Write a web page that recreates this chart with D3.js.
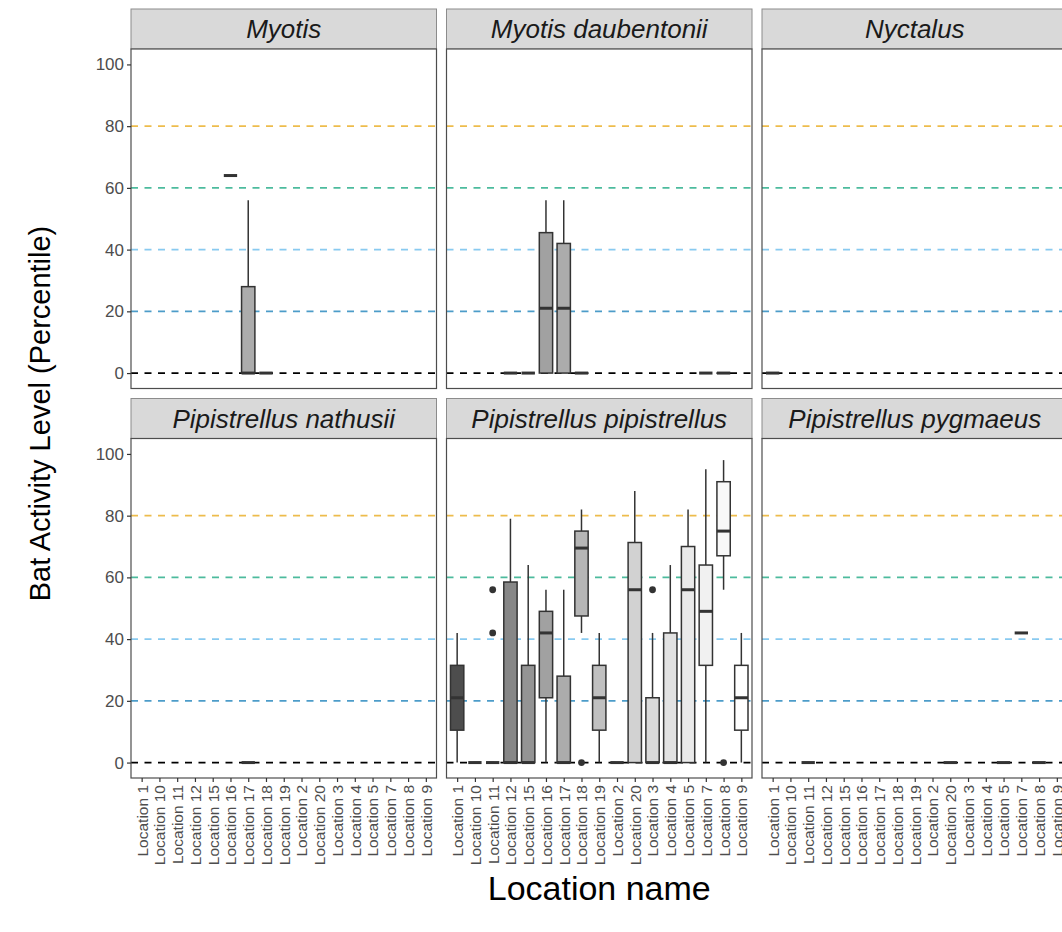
<!DOCTYPE html>
<html>
<head>
<meta charset="utf-8">
<script src="https://cdn.jsdelivr.net/npm/d3@7"></script>
<style>
  body { margin: 0; background: #fff; }
  svg { display: block; font-family: "Liberation Sans", Arial, sans-serif; }
</style>
</head>
<body>
<svg id="chart" width="1062" height="932"></svg>
<script>
// datos
var locations = ["Location 1", "Location 10", "Location 11", "Location 12", "Location 15",
  "Location 16", "Location 17", "Location 18", "Location 19", "Location 2", "Location 20",
  "Location 3", "Location 4", "Location 5", "Location 7", "Location 8", "Location 9"];

var species = ["Myotis", "Myotis daubentonii", "Nyctalus",
  "Pipistrellus nathusii", "Pipistrellus pipistrellus", "Pipistrellus pygmaeus"];

var yTicks = [0, 20, 40, 60, 80, 100];
var thresholds = [0, 20, 40, 60, 80];

// [location, lower, q1, median, q3, upper]
var myotisBoxes = [
  ["Location 16", 64, 64, 64, 64, 64],
  ["Location 17", 0, 0, 0, 28, 56],
  ["Location 18", 0, 0, 0, 0, 0]
];
var daubentoniiBoxes = [
  ["Location 12", 0, 0, 0, 0, 0],
  ["Location 15", 0, 0, 0, 0, 0],
  ["Location 16", 0, 0, 21, 45.5, 56],
  ["Location 17", 0, 0, 21, 42, 56],
  ["Location 18", 0, 0, 0, 0, 0],
  ["Location 7", 0, 0, 0, 0, 0],
  ["Location 8", 0, 0, 0, 0, 0]
];
var nyctalusBoxes = [
  ["Location 1", 0, 0, 0, 0, 0]
];
var nathusiiBoxes = [
  ["Location 17", 0, 0, 0, 0, 0]
];
var pipistrellusBoxes = [
  ["Location 1", 0, 10.5, 21, 31.5, 42],
  ["Location 10", 0, 0, 0, 0, 0],
  ["Location 11", 0, 0, 0, 0, 0],
  ["Location 12", 0, 0, 0, 58.5, 79],
  ["Location 15", 0, 0, 0, 31.5, 64],
  ["Location 16", 0, 21, 42, 49, 56],
  ["Location 17", 0, 0, 0, 28, 56],
  ["Location 18", 42, 47.5, 69.5, 75, 82],
  ["Location 19", 0, 10.5, 21, 31.5, 42],
  ["Location 2", 0, 0, 0, 0, 0],
  ["Location 20", 0, 0, 56, 71.3, 88],
  ["Location 3", 0, 0, 0, 21, 42],
  ["Location 4", 0, 0, 0, 42, 64],
  ["Location 5", 0, 0, 56, 70, 82],
  ["Location 7", 0, 31.5, 49, 64, 95],
  ["Location 8", 56, 67, 75, 91, 98],
  ["Location 9", 0, 10.5, 21, 31.5, 42]
];
var pygmaeusBoxes = [
  ["Location 11", 0, 0, 0, 0, 0],
  ["Location 20", 0, 0, 0, 0, 0],
  ["Location 5", 0, 0, 0, 0, 0],
  ["Location 7", 42, 42, 42, 42, 42],
  ["Location 8", 0, 0, 0, 0, 0]
];
var pipistrellusOutliers = [
  ["Location 11", 42], ["Location 11", 56],
  ["Location 18", 0], ["Location 3", 56], ["Location 8", 0]
];

var boxesBySpecies = [myotisBoxes, daubentoniiBoxes, nyctalusBoxes,
  nathusiiBoxes, pipistrellusBoxes, pygmaeusBoxes];
var outliersBySpecies = [[], [], [], [], pipistrellusOutliers, []];

// colores de las lineas de referencia
var thresholdColours = ["#000000", "#0072B2", "#56B4E9", "#009E73", "#E69F00"];

// grandaria de los paneles
var marginLeft = 131, marginTop = 9, panelW = 305.5, panelH = 339.5, stripH = 40,
    gapX = 10, gapY = 10;

var svg = d3.select("#chart");

var x = d3.scalePoint().domain(locations).range([0, panelW]).padding(0.6);
var y = d3.scaleLinear().domain([-5, 105]).range([panelH, 0]);
var boxW = x.step() * 0.75;

// escala de grises como scale_fill_grey
var fill = d3.scaleOrdinal().domain(locations).range(locations.map(function (d, i) {
  var g = Math.pow(Math.pow(0.3, 2.2) + i / (locations.length - 1) * (1 - Math.pow(0.3, 2.2)), 1 / 2.2);
  return d3.rgb(g * 255, g * 255, g * 255).formatHex();
}));

species.forEach(function (sp, k) {
  var col = k % 3, row = Math.floor(k / 3);
  var px = marginLeft + col * (panelW + gapX);
  var py = marginTop + row * (stripH + panelH + gapY);

  var g = svg.append("g").attr("transform", "translate(" + px + "," + py + ")");

  // tira
  g.append("rect")
    .attr("width", panelW).attr("height", stripH)
    .attr("fill", "#d9d9d9").attr("stroke", "#8c8c8c").attr("stroke-width", 1);
  g.append("text")
    .attr("x", panelW / 2).attr("y", stripH / 2)
    .attr("dy", "0.36em")
    .attr("text-anchor", "middle")
    .style("font-size", "26px").style("font-style", "italic")
    .attr("fill", "#1a1a1a")
    .text(sp);

  var p = g.append("g").attr("transform", "translate(0," + stripH + ")");

  p.append("rect").attr("width", panelW).attr("height", panelH).attr("fill", "#fff");

  // lineas de referencia
  p.selectAll(".hline")
    .data(thresholds)
    .enter().append("line")
    .attr("x1", 0).attr("x2", panelW)
    .attr("y1", function (d) { return y(d); })
    .attr("y2", function (d) { return y(d); })
    .attr("stroke", function (d, i) { return thresholdColours[i]; })
    .attr("stroke-opacity", function (d, i) { return i === 0 ? 1 : 0.7; })
    .attr("stroke-width", 1.8)
    .attr("stroke-dasharray", "7,6.5");

  // cajas
  var b = p.selectAll(".box")
    .data(boxesBySpecies[k])
    .enter().append("g")
    .attr("transform", function (d) { return "translate(" + x(d[0]) + ",0)"; });

  b.append("line")
    .attr("y1", function (d) { return y(d[5]); })
    .attr("y2", function (d) { return y(d[4]); })
    .attr("stroke", "#333").attr("stroke-width", 1.5);
  b.append("line")
    .attr("y1", function (d) { return y(d[2]); })
    .attr("y2", function (d) { return y(d[1]); })
    .attr("stroke", "#333").attr("stroke-width", 1.5);
  b.append("rect")
    .attr("x", -boxW / 2).attr("width", boxW)
    .attr("y", function (d) { return y(d[4]); })
    .attr("height", function (d) { return y(d[2]) - y(d[4]); })
    .attr("fill", function (d) { return fill(d[0]); })
    .attr("stroke", "#333").attr("stroke-width", 1.5);
  b.append("line")
    .attr("x1", -boxW / 2).attr("x2", boxW / 2)
    .attr("y1", function (d) { return y(d[3]); })
    .attr("y2", function (d) { return y(d[3]); })
    .attr("stroke", "#333").attr("stroke-width", 3);

  p.selectAll(".outlier")
    .data(outliersBySpecies[k])
    .enter().append("circle")
    .attr("cx", function (d) { return x(d[0]); })
    .attr("cy", function (d) { return y(d[1]); })
    .attr("r", 3.4)
    .attr("fill", "#333");

  // borde
  p.append("rect").attr("width", panelW).attr("height", panelH)
    .attr("fill", "none").attr("stroke", "#4d4d4d").attr("stroke-width", 1.2);

  if (col === 0) {
    var ya = p.append("g").call(d3.axisLeft(y).tickValues(yTicks).tickSize(4).tickPadding(3));
    ya.select(".domain").remove();
    ya.selectAll("line").attr("stroke", "#333").attr("stroke-width", 1.2);
    ya.selectAll("text").attr("fill", "#4d4d4d").style("font-size", "17px").attr("font-family", null);
  }
  if (row === 1) {
    var xa = p.append("g").attr("transform", "translate(0," + panelH + ")")
      .call(d3.axisBottom(x).tickSize(4));
    xa.select(".domain").remove();
    xa.selectAll("line").attr("stroke", "#333").attr("stroke-width", 1.2);
    xa.selectAll("text")
      .attr("fill", "#4d4d4d").style("font-size", "15.5px").attr("font-family", null)
      .attr("transform", "rotate(-90)")
      .attr("x", -7).attr("y", 0).attr("dy", "0.35em")
      .attr("text-anchor", "end");
  }
});

// titulos
svg.append("text")
  .attr("transform", "translate(40," + (marginTop + stripH + (stripH + 2 * panelH + gapY) / 2) + ") rotate(-90)")
  .attr("dy", "0.35em")
  .attr("text-anchor", "middle")
  .style("font-size", "29px").attr("fill", "#000")
  .text("Bat Activity Level (Percentile)");

svg.append("text")
  .attr("x", marginLeft + (3 * panelW + 2 * gapX) / 2).attr("y", 888)
  .attr("dy", "0.35em")
  .attr("text-anchor", "middle")
  .style("font-size", "34px").attr("fill", "#000")
  .text("Location name");
</script>
</body>
</html>
